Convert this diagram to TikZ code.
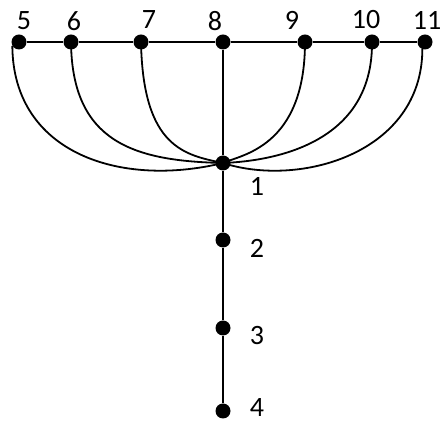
\documentclass[tikz,border=0pt]{standalone}
\usepackage{fontspec}
\setmainfont{Carlito}
\usetikzlibrary{positioning}

\begin{document}
\begin{tikzpicture}[
        x=1pt, y=1pt,
        vertex/.style={circle, fill=black, inner sep=0pt, minimum size=15pt},
        lbl/.style={font=\fontsize{28}{28}\selectfont, inner sep=0pt},
        edge/.style={line width=1.8pt}
    ]
        \useasboundingbox (0, 0) rectangle (440, 423);

        % Vertices
        \node[vertex] (v5) at (19, 381) {};
        \node[vertex] (v6) at (71, 381) {};
        \node[vertex] (v7) at (141, 381) {};
        \node[vertex] (v8) at (223, 381) {};
        \node[vertex] (v9) at (305, 381) {};
        \node[vertex] (v10) at (372, 381) {};
        \node[vertex] (v11) at (425, 381) {};
        \node[vertex] (v1) at (223, 260) {};
        \node[vertex] (v2) at (223, 183) {};
        \node[vertex] (v3) at (223, 95) {};
        \node[vertex] (v4) at (223, 12) {};

        % Labels
        \node[lbl] (l5) at (24, 402) {5};
        \node[lbl] (l6) at (74, 402) {6};
        \node[lbl] (l7) at (149, 403) {7};
        \node[lbl] (l8) at (215, 402) {8};
        \node[lbl] (l9) at (292, 403) {9};
        \node[lbl] (l10) at (366, 403) {10};
        \node[lbl] (l11) at (427, 403) {11};
        \node[lbl] (l1) at (257, 237) {1};
        \node[lbl] (l2) at (257, 175) {2};
        \node[lbl] (l3) at (257, 87) {3};
        \node[lbl] (l4) at (257, 15) {4};

        % Edges
        \draw[edge] (v5) -- (v6) -- (v7) -- (v8) -- (v9) -- (v10) -- (v11);
        \draw[edge] (v8) -- (v1) -- (v2) -- (v3) -- (v4);

        % Arcs into vertex 1
        \draw[edge] (v5.210) .. controls (13, 270) and (120, 235) .. (v1.center);
        \draw[edge] (v6.center) .. controls (72, 280) and (135, 262) .. (v1.center);
        \draw[edge] (v7.center) .. controls (143, 275) and (185, 268) .. (v1.center);
        \draw[edge] (v9.center) .. controls (305, 275) and (240, 268) .. (v1.center);
        \draw[edge] (v10.center) .. controls (373, 280) and (275, 262) .. (v1.center);
        \draw[edge] (v11.250) .. controls (422, 270) and (300, 235) .. (v1.center);
    \end{tikzpicture}
\end{document}
